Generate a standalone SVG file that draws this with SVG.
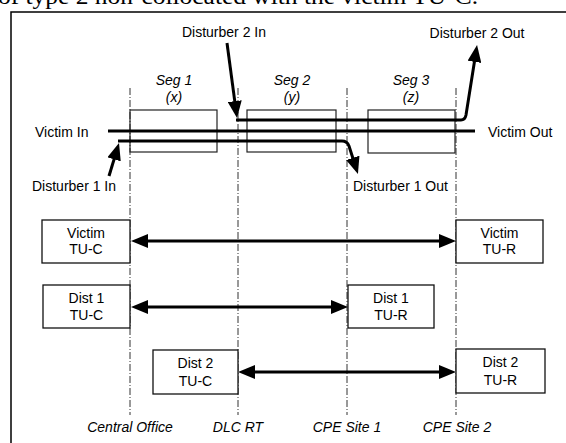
<svg xmlns="http://www.w3.org/2000/svg" width="566" height="443" viewBox="0 0 566 443">
<style>
  text { font-family: "Liberation Sans", Arial, sans-serif; font-size: 14px; fill: #000; }
  .it { font-style: italic; }
  .mid { text-anchor: middle; }
  .cap { font-family: "Liberation Serif", "Times New Roman", serif; font-size: 24px; }
  .frame { fill: none; stroke: #000; stroke-width: 1.5; }
  .seg { fill: none; stroke: #222; stroke-width: 1.2; }
  .box { fill: #fff; stroke: #111; stroke-width: 1.3; }
  .site { fill: none; stroke: #333; stroke-width: 1; stroke-dasharray: 7 2 1 2; }
  .wire { fill: none; stroke: #000; stroke-width: 3; }
  .arr { fill: none; stroke: #000; stroke-width: 3; marker-end: url(#ah); }
  .dbl { fill: none; stroke: #000; stroke-width: 3; marker-start: url(#ahs); marker-end: url(#ah); }
</style>
<defs>
  <marker id="ah" markerUnits="userSpaceOnUse" markerWidth="18" markerHeight="14" refX="7" refY="7" orient="auto">
    <path d="M0,0 L17,7 L0,14 z" fill="#000"/>
  </marker>
  <marker id="ahs" markerUnits="userSpaceOnUse" markerWidth="18" markerHeight="14" refX="7" refY="7" orient="auto-start-reverse">
    <path d="M0,0 L17,7 L0,14 z" fill="#000"/>
  </marker>
</defs>
<rect width="566" height="443" fill="#fff"/>

<text class="cap" x="-2" y="4" textLength="480" lengthAdjust="spacingAndGlyphs">of type 2 non-collocated with the victim TU-C.</text>

<path class="frame" d="M11,443 L11,12 L566,12"/>

<g id="sites">
  <line class="site" x1="130" y1="88" x2="130" y2="415"/>
  <line class="site" x1="238" y1="88" x2="238" y2="415"/>
  <line class="site" x1="347" y1="88" x2="347" y2="415"/>
  <line class="site" x1="456" y1="88" x2="456" y2="415"/>
  <text class="it mid" x="130" y="432">Central Office</text>
  <text class="it mid" x="238" y="432">DLC RT</text>
  <text class="it mid" x="347" y="432">CPE Site 1</text>
  <text class="it mid" x="457" y="432">CPE Site 2</text>
</g>

<g id="seg1">
  <rect class="seg" x="130" y="110" width="87" height="42"/>
  <text class="it mid" x="174" y="85">Seg 1</text>
  <text class="it mid" x="174" y="102">(x)</text>
</g>
<g id="seg2">
  <rect class="seg" x="247" y="110" width="89" height="42"/>
  <text class="it mid" x="292" y="85">Seg 2</text>
  <text class="it mid" x="292" y="102">(y)</text>
</g>
<g id="seg3">
  <rect class="seg" x="368" y="110" width="87" height="43"/>
  <text class="it mid" x="411" y="85">Seg 3</text>
  <text class="it mid" x="411" y="102">(z)</text>
</g>

<g id="labels">
  <text x="35" y="137">Victim In</text>
  <text x="488" y="137">Victim Out</text>
  <text x="32" y="191">Disturber 1 In</text>
  <text x="353" y="191">Disturber 1 Out</text>
  <text class="mid" x="224" y="37">Disturber 2 In</text>
  <text class="mid" x="477" y="38">Disturber 2 Out</text>
</g>

<g id="victim-tuc">
  <rect class="box" x="42" y="220" width="88" height="43"/>
  <text class="mid" x="86" y="238">Victim</text>
  <text class="mid" x="86" y="254">TU-C</text>
</g>
<g id="dist1-tuc">
  <rect class="box" x="43" y="285" width="87" height="43"/>
  <text class="mid" x="86.5" y="303">Dist 1</text>
  <text class="mid" x="86.5" y="320">TU-C</text>
</g>
<g id="dist2-tuc">
  <rect class="box" x="153" y="350" width="85" height="44"/>
  <text class="mid" x="195.5" y="368">Dist 2</text>
  <text class="mid" x="195.5" y="386">TU-C</text>
</g>
<g id="victim-tur">
  <rect class="box" x="456" y="220" width="87" height="43"/>
  <text class="mid" x="499.5" y="238">Victim</text>
  <text class="mid" x="499.5" y="254">TU-R</text>
</g>
<g id="dist1-tur">
  <rect class="box" x="348" y="285" width="86" height="43"/>
  <text class="mid" x="391" y="303">Dist 1</text>
  <text class="mid" x="391" y="320">TU-R</text>
</g>
<g id="dist2-tur">
  <rect class="box" x="456" y="349" width="89" height="44"/>
  <text class="mid" x="500.5" y="367">Dist 2</text>
  <text class="mid" x="500.5" y="385">TU-R</text>
</g>

<g id="connectors">
  <line class="wire" x1="108" y1="131" x2="475" y2="131"/>
  <path class="arr" d="M109,176 L116.1,152.6"/>
  <path class="arr" d="M118,141 L342,141 Q347,141 349,146 L354.9,164.5"/>
  <path class="arr" d="M227,43 L235.7,108.1"/>
  <path class="arr" d="M236,120 L461,120 Q465,120 466,115 L475.5,54.9"/>
  <line class="dbl" x1="141" y1="241" x2="446" y2="241"/>
  <line class="dbl" x1="141" y1="307" x2="338" y2="307"/>
  <line class="dbl" x1="248" y1="372" x2="446" y2="372"/>
</g>
</svg>
